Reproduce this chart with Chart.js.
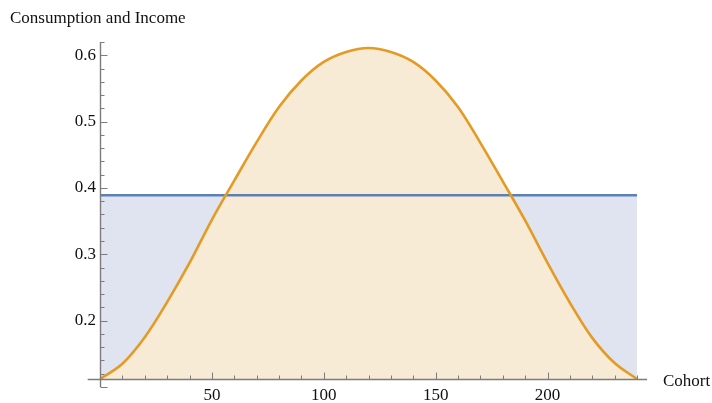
<!DOCTYPE html>
<html>
<head>
<meta charset="utf-8">
<title>Consumption and Income</title>
<script src="https://cdn.jsdelivr.net/npm/chart.js@4.4.0/dist/chart.umd.min.js"></script>
<style>
    html, body { margin: 0; padding: 0; background: #ffffff; }
    #wrap { width: 712px; height: 403px; }
</style>
</head>
<body>
<div id="wrap"><canvas id="consumption-chart" width="712" height="403"></canvas></div>
<script>
// Values, one point every 10 cohorts
const cohorts = [0, 10, 20, 30, 40, 50, 60, 70, 80, 90, 100, 110, 120,
                 130, 140, 150, 160, 170, 180, 190, 200, 210, 220, 230, 240];
const income = [0.112, 0.135, 0.175, 0.228, 0.287, 0.352, 0.411, 0.469, 0.522, 0.562, 0.590, 0.605, 0.611,
                0.605, 0.590, 0.562, 0.522, 0.468, 0.410, 0.351, 0.287, 0.227, 0.174, 0.136, 0.112];
const consumption = [0.389, 0.389, 0.389, 0.389, 0.389, 0.389, 0.389, 0.389, 0.389, 0.389, 0.389, 0.389, 0.389,
                     0.389, 0.389, 0.389, 0.389, 0.389, 0.389, 0.389, 0.389, 0.389, 0.389, 0.389, 0.389];

// Labelled ticks
const xTicks = [50, 100, 150, 200];
const yTicks = [0.2, 0.3, 0.4, 0.5, 0.6];

const FONT = 'Liberation Serif';
const AXIS_COLOR = '#7c7c7c';

function toPoints(values) {
    return cohorts.map(function(c, i) { return { x: c, y: values[i] }; });
}

// Axes through the origin with inward ticks, plus the two axis captions
const axesPlugin = {
    id: 'originAxes',
    afterDraw(chart) {
        const ctx = chart.ctx;
        const xs = chart.scales.x;
        const ys = chart.scales.y;
        const ox = Math.round(xs.getPixelForValue(0)) + 0.5;
        const oy = Math.round(ys.getPixelForValue(ys.min)) + 0.5;

        ctx.save();
        ctx.strokeStyle = AXIS_COLOR;
        ctx.lineWidth = 1.4;

        // axis lines
        ctx.beginPath();
        ctx.moveTo(xs.getPixelForValue(-5.5), oy);
        ctx.lineTo(xs.getPixelForValue(244.5), oy);
        ctx.moveTo(ox, ys.getPixelForValue(0.10));
        ctx.lineTo(ox, ys.getPixelForValue(0.62));
        ctx.stroke();

        // y ticks every 0.02, long ones every 0.1
        ctx.lineWidth = 1;
        ctx.beginPath();
        for (let k = 5; k <= 31; k++) {
            const py = Math.round(ys.getPixelForValue(k / 50)) + 0.5;
            const len = k % 5 === 0 ? 7 : 4;
            ctx.moveTo(ox, py);
            ctx.lineTo(ox + len, py);
        }
        // x ticks every 10, long ones every 50
        for (let k = 1; k <= 24; k++) {
            const px = Math.round(xs.getPixelForValue(k * 10)) + 0.5;
            const len = k % 5 === 0 ? 7 : 4;
            ctx.moveTo(px, oy);
            ctx.lineTo(px, oy - len);
        }
        ctx.stroke();

        // captions
        ctx.fillStyle = '#111111';
        ctx.font = '17px "' + FONT + '"';
        ctx.textAlign = 'left';
        ctx.textBaseline = 'alphabetic';
        ctx.fillText('Consumption and Income', 10, 23);
        ctx.fillText('Cohort', 663, 386);
        ctx.restore();
    }
};

function createChart() {
    const ctx = document.getElementById('consumption-chart').getContext('2d');

    const data = {
        datasets: [
            {
                label: 'Income',
                data: toPoints(income),
                borderColor: '#e39b25',
                backgroundColor: '#f8ebd5',
                borderWidth: 2.6,
                fill: 'start',
                pointRadius: 0,
                tension: 0.35
            },
            {
                label: 'Consumption',
                data: toPoints(consumption),
                borderColor: '#5e81b5',
                backgroundColor: '#dfe4f0',
                borderWidth: 2.6,
                fill: 'start',
                pointRadius: 0
            }
        ]
    };

    const tickFont = { family: FONT, size: 17 };

    const options = {
        responsive: false,
        devicePixelRatio: 1,
        animation: false,
        layout: {
            padding: { top: 42, right: 75, bottom: 0, left: 0 }
        },
        plugins: {
            legend: { display: false },
            tooltip: { enabled: false },
            filler: { drawTime: 'beforeDatasetsDraw' }
        },
        scales: {
            x: {
                type: 'linear',
                min: 0,
                max: 240,
                grid: { display: false, drawTicks: false },
                border: { display: false },
                ticks: {
                    font: tickFont,
                    color: '#111111',
                    padding: 6,
                    maxRotation: 0,
                    autoSkip: false
                },
                afterBuildTicks: function(scale) {
                    scale.ticks = xTicks.map(function(v) { return { value: v }; });
                },
                afterFit: function(scale) {
                    scale.height = 24;
                }
            },
            y: {
                type: 'linear',
                min: 0.112,
                max: 0.62,
                grid: { display: false, drawTicks: false },
                border: { display: false },
                ticks: {
                    font: tickFont,
                    color: '#111111',
                    padding: 4,
                    autoSkip: false,
                    callback: function(value) { return value.toFixed(1); }
                },
                afterBuildTicks: function(scale) {
                    scale.ticks = yTicks.map(function(v) { return { value: v }; });
                },
                afterFit: function(scale) {
                    scale.width = 100;
                }
            }
        }
    };

    new Chart(ctx, {
        type: 'line',
        data: data,
        options: options,
        plugins: [axesPlugin]
    });
}

createChart();
</script>
</body>
</html>
